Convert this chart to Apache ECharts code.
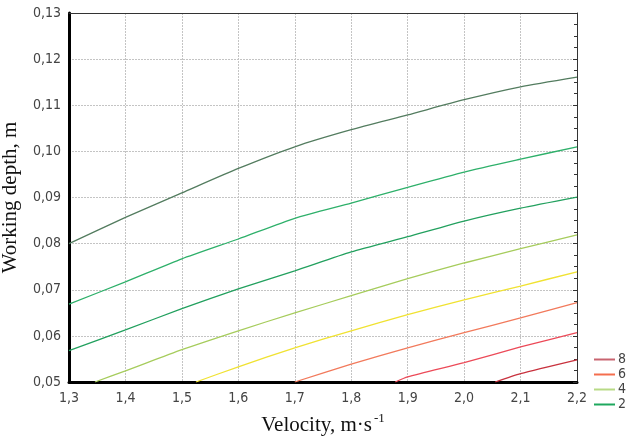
<!DOCTYPE html>
<html><head><meta charset="utf-8">
<script src="https://cdn.jsdelivr.net/npm/echarts@6/dist/echarts.min.js"></script>
<style>html,body{margin:0;padding:0;background:#fff}#c{width:627px;height:441px}</style>
</head><body><div id="c"></div>
<script>
const xTicks = [1.3,1.4,1.5,1.6,1.7,1.8,1.9,2.0,2.1,2.2];
const yTicks = [0.05,0.06,0.07,0.08,0.09,0.10,0.11,0.12,0.13];
const legendLabels = ["8","6","4","2"];

const v1 = [1.3,1.4,1.5,1.6,1.7,1.8,1.9,2.0,2.1,2.2];
const d1 = [0.0800,0.0857,0.0910,0.0963,0.1010,0.1047,0.1079,0.1112,0.1140,0.1161];
const v2 = [1.3,1.4,1.5,1.6,1.7,1.8,1.9,2.0,2.1,2.2];
const d2 = [0.0669,0.0717,0.0767,0.0810,0.0855,0.0888,0.0922,0.0955,0.0983,0.1010];
const v3 = [1.3,1.4,1.5,1.6,1.7,1.8,1.9,2.0,2.1,2.2];
const d3 = [0.0568,0.0613,0.0659,0.0702,0.0741,0.0782,0.0815,0.0849,0.0877,0.0901];
const v4 = [1.346,1.4,1.5,1.6,1.7,1.8,1.9,2.0,2.1,2.2];
const d4 = [0.0500,0.0524,0.0570,0.0611,0.0650,0.0687,0.0724,0.0758,0.0789,0.0819];
const v5 = [1.525,1.6,1.7,1.8,1.9,2.0,2.1,2.2];
const d5 = [0.0500,0.0533,0.0574,0.0611,0.0646,0.0678,0.0708,0.0739];
const v6 = [1.7,1.8,1.9,2.0,2.1,2.2];
const d6 = [0.0500,0.0539,0.0574,0.0607,0.0639,0.0672];
const v7 = [1.878,1.9,2.0,2.1,2.2];
const d7 = [0.0500,0.0511,0.0542,0.0576,0.0607];
const v8 = [2.055,2.1,2.2];
const d8 = [0.0500,0.0518,0.0548];

const lines = [
  {name:"1", v:v1, d:d1, color:"#537c5f"},
  {name:"2", v:v2, d:d2, color:"#2eb06a"},
  {name:"3", v:v3, d:d3, color:"#22a05e"},
  {name:"4", v:v4, d:d4, color:"#a6cc5c"},
  {name:"5", v:v5, d:d5, color:"#f0e232"},
  {name:"6", v:v6, d:d6, color:"#f27a5c"},
  {name:"7", v:v7, d:d7, color:"#ec4a58"},
  {name:"8", v:v8, d:d8, color:"#c8323e"}
];
const legendColors = {"8":"#c86470","6":"#f46e4e","4":"#b8da86","2":"#1fa85e"};

const fmt = v => v.toFixed(v < 1 ? 2 : 1).replace('.', ',');
const labelFont = "'Liberation Sans Narrow','Arial Narrow','DejaVu Sans Condensed',sans-serif";

const chart = echarts.init(document.getElementById('c'), null, {renderer:'canvas'});
const series = lines.map(l => ({
  name: l.name, type: 'line', showSymbol: false, symbol: 'none', smooth: 0.2,
  data: l.v.map((x, i) => [x, l.d[i]]),
  lineStyle: {color: l.color, width: 1.3},
  itemStyle: {color: legendColors[l.name] || l.color},
  z: 3, silent: true
}));

chart.setOption({
  animation: false,
  backgroundColor: '#fff',
  grid: {left: 69, right: 50, top: 13, bottom: 59, containLabel: false, outerBoundsMode: 'none'},
  legend: {
    data: legendLabels, orient: 'vertical', left: 589, top: 347,
    itemWidth: 21, itemHeight: 2, itemGap: 0, icon: 'rect',
    textStyle: {fontFamily: labelFont, fontSize: 14, lineHeight: 15, color: '#444', padding: [0,0,0,-2]},
    selectedMode: false
  },
  xAxis: [{
    type: 'value', min: xTicks[0], max: xTicks[xTicks.length-1], interval: 0.1,
    axisLine: {show: true, onZero: false, lineStyle: {color: '#000', width: 3}},
    axisTick: {show: false},
    axisLabel: {formatter: v => fmt(v), fontFamily: labelFont, fontSize: 14, color: '#444', margin: 9},
    splitLine: {show: true, lineStyle: {color: '#c4c4c4', type: [2,1], width: 1}},
    name: '{a|Velocity, m·s}{b|-1}', nameLocation: 'middle', nameGap: 30,
    nameTextStyle: {rich: {
      a: {fontFamily: "'Liberation Serif','Times New Roman',serif", fontSize: 21, color: '#111'},
      b: {fontFamily: "'Liberation Serif','Times New Roman',serif", fontSize: 13, color: '#111', verticalAlign: 'top', padding: [0,0,14,2]}
    }}
  },{
    type: 'value', position: 'top', min: xTicks[0], max: xTicks[xTicks.length-1], interval: 0.1,
    axisLine: {show: true, lineStyle: {color: '#333', width: 1}},
    axisTick: {show: false}, axisLabel: {show: false}, splitLine: {show: false}
  }],
  yAxis: [{
    type: 'value', min: yTicks[0], max: yTicks[yTicks.length-1], interval: 0.01,
    axisLine: {show: true, onZero: false, lineStyle: {color: '#000', width: 3}},
    axisTick: {show: false},
    axisLabel: {formatter: v => fmt(v), fontFamily: labelFont, fontSize: 14, color: '#444', margin: 8},
    splitLine: {show: true, lineStyle: {color: '#c4c4c4', type: [2,1], width: 1}},
    name: 'Working depth, m', nameLocation: 'middle', nameGap: 48, nameRotate: 90,
    nameTextStyle: {fontFamily: "'Liberation Serif','Times New Roman',serif", fontSize: 21, color: '#111'}
  },{
    type: 'value', position: 'right', min: yTicks[0], max: yTicks[yTicks.length-1], interval: 0.01,
    axisLine: {show: true, lineStyle: {color: '#333', width: 1}},
    axisTick: {show: true, inside: true, length: 4, lineStyle: {color: '#333'}},
    minorTick: {show: true, splitNumber: 4, length: 3, lineStyle: {color: '#333'}},
    axisLabel: {show: false}, splitLine: {show: false}
  }],
  series: series
});
</script></body></html>
